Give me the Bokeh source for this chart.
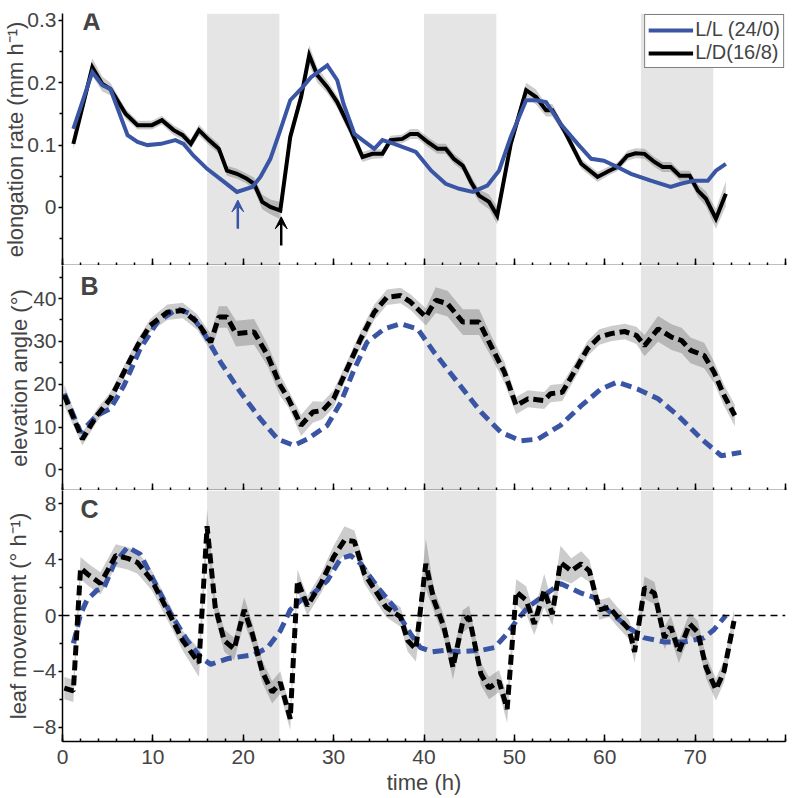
from bokeh.plotting import figure
from bokeh.layouts import column
from bokeh.models import (Range1d, FixedTicker, CustomJSTickFormatter, BoxAnnotation, Span,
                          Label, Arrow, VeeHead, Legend, LegendItem)
from bokeh.embed import file_html
from bokeh.resources import INLINE

BLUE = "#3a55a4"
FONT = "Liberation Sans"

# dark periods (h)
night_start = [16, 40, 64]
night_end = [24, 48, 72]

# ---- Panel A: elongation rate (mm h-1) ----
A_ld_t = [1.2, 3.3, 4.4, 5.3, 7.0, 8.3, 9.9, 11.0, 12.3, 13.3, 14.2, 15.1, 16.2, 17.3, 18.2,
          19.3, 20.4, 21.2, 22.1, 23.0, 24.1, 25.2, 26.4, 27.3, 28.2, 29.3, 30.4, 31.9, 33.2, 34.3,
          35.4, 36.3, 37.6, 38.5, 39.3, 40.4, 41.5, 42.4, 43.3, 44.3, 45.2, 46.1, 47.2, 48.1, 49.6,
          51.3, 52.4, 53.5, 54.2, 55.5, 57.4, 59.2, 60.5, 61.4, 62.5, 63.4, 64.4, 65.5, 66.4, 67.3,
          68.3, 69.4, 70.3, 71.2, 72.3, 73.4]
A_ld_v = [0.102, 0.225, 0.198, 0.190, 0.150, 0.132, 0.132, 0.140, 0.124, 0.116, 0.102, 0.124, 0.108, 0.094, 0.059,
          0.054, 0.046, 0.038, 0.009, 0.001, -0.005, 0.113, 0.177, 0.244, 0.212, 0.193, 0.169, 0.124, 0.081, 0.086,
          0.086, 0.108, 0.110, 0.118, 0.118, 0.105, 0.094, 0.094, 0.078, 0.067, 0.041, 0.019, 0.009, -0.013, 0.102,
          0.188, 0.177, 0.156, 0.156, 0.124, 0.070, 0.049, 0.059, 0.065, 0.083, 0.087, 0.086, 0.073, 0.065, 0.065,
          0.051, 0.051, 0.027, 0.014, -0.018, 0.022]
A_ld_se = [0.008, 0.014, 0.012, 0.010, 0.008, 0.007, 0.007, 0.007, 0.008, 0.008,
           0.008, 0.009, 0.008, 0.008, 0.008, 0.008, 0.008, 0.010, 0.012, 0.012,
           0.014, 0.012, 0.012, 0.016, 0.012, 0.010, 0.010, 0.010, 0.008, 0.008,
           0.007, 0.007, 0.007, 0.008, 0.008, 0.008, 0.008, 0.008, 0.008, 0.008,
           0.010, 0.010, 0.012, 0.014, 0.010, 0.012, 0.012, 0.010, 0.010, 0.008,
           0.008, 0.008, 0.007, 0.007, 0.008, 0.008, 0.008, 0.008, 0.008, 0.008,
           0.008, 0.008, 0.010, 0.012, 0.016, 0.020]
A_ll_t = [1.2, 3.3, 4.4, 5.3, 7.2, 8.3, 9.4, 10.9, 12.5, 13.4, 14.5, 16.0, 17.7, 19.3, 21.0,
          21.9, 23.0, 24.1, 25.2, 26.4, 27.5, 29.3, 30.4, 31.1, 32.3, 33.2, 34.5, 35.4, 36.7, 38.2,
          39.1, 40.8, 42.4, 43.9, 45.4, 47.0, 48.3, 49.6, 51.3, 52.4, 53.5, 55.1, 57.0, 58.5, 59.9,
          61.4, 62.9, 65.1, 67.3, 68.4, 69.9, 71.4, 72.3, 73.4]
A_ll_v = [0.126, 0.217, 0.196, 0.190, 0.116, 0.105, 0.100, 0.102, 0.108, 0.102, 0.083, 0.062, 0.043, 0.025, 0.033,
          0.049, 0.078, 0.124, 0.172, 0.190, 0.209, 0.228, 0.204, 0.166, 0.118, 0.108, 0.094, 0.108, 0.102, 0.094,
          0.089, 0.059, 0.038, 0.030, 0.025, 0.035, 0.059, 0.113, 0.172, 0.172, 0.169, 0.134, 0.102, 0.078, 0.075,
          0.065, 0.054, 0.043, 0.033, 0.038, 0.043, 0.043, 0.059, 0.070]
A_yticks = [0, 0.1, 0.2, 0.3]
A_yminor = [-0.05, 0.05, 0.15, 0.25]

# ---- Panel B: elevation angle (deg) ----
B_ld_t = [0.2, 2.2, 3.8, 5.3, 6.8, 8.3, 9.7, 11.6, 13.3, 14.9, 16.4, 17.3, 18.2, 19.2, 21.2,
          22.7, 24.1, 25.0, 26.4, 27.7, 28.8, 30.0, 31.5, 33.0, 34.5, 35.9, 37.4, 38.5, 40.2, 41.3,
          42.6, 44.3, 46.1, 47.4, 48.9, 50.2, 51.5, 53.3, 54.0, 55.3, 56.6, 58.1, 59.4, 60.7, 62.2,
          63.5, 64.4, 65.9, 67.4, 68.5, 69.5, 71.0, 72.1, 73.2, 74.4]
B_ld_v = [17.4, 7.2, 12.7, 16.6, 22.8, 29.0, 33.7, 36.8, 37.2, 34.5, 29.8, 35.7, 35.7, 31.8, 32.2,
          26.7, 19.7, 16.6, 10.4, 13.5, 13.9, 16.6, 23.6, 30.6, 36.8, 40.3, 40.7, 39.2, 35.7, 39.6,
          38.8, 34.5, 34.5, 29.0, 22.8, 15.0, 16.6, 16.2, 17.8, 18.1, 22.8, 28.3, 31.0, 31.8, 32.3,
          31.4, 29.0, 32.9, 31.0, 30.2, 27.9, 26.7, 22.8, 17.4, 12.7]
B_ld_se = [2.5, 1.5, 1.5, 1.5, 1.5, 1.5, 1.5, 1.8, 1.8, 1.8,
           2.0, 2.5, 2.5, 3.0, 3.0, 2.5, 2.5, 2.0, 2.5, 2.5,
           2.0, 2.0, 1.8, 1.8, 1.8, 1.8, 1.8, 1.8, 2.0, 3.0,
           3.0, 3.0, 3.0, 2.5, 2.5, 2.0, 2.0, 2.0, 2.0, 2.0,
           1.8, 1.8, 1.8, 1.8, 1.8, 2.0, 2.5, 3.0, 3.0, 3.0,
           3.0, 3.0, 2.5, 2.5, 2.5]
B_ll_t = [0.2, 2.0, 3.8, 5.3, 6.8, 8.6, 10.5, 12.7, 14.2, 15.8, 17.5, 19.7, 21.9, 23.8, 25.6,
          27.1, 29.3, 30.8, 32.3, 33.7, 35.6, 37.4, 39.3, 41.1, 43.7, 46.3, 48.5, 50.7, 52.6, 55.1,
          57.4, 59.6, 61.4, 63.6, 65.9, 68.1, 70.7, 72.9, 75.1]
B_ll_v = [17.8, 8.8, 12.7, 14.3, 19.7, 28.3, 34.5, 37.6, 36.4, 31.4, 25.1, 18.1, 11.9, 7.2, 5.7,
          7.2, 10.4, 15.8, 23.6, 29.8, 32.9, 34.1, 32.9, 27.5, 20.5, 13.5, 8.8, 6.8, 7.2, 10.4,
          15.0, 18.9, 20.5, 18.9, 16.6, 12.7, 7.2, 3.3, 4.1]
B_yticks = [0, 10, 20, 30, 40]
B_yminor = [5, 15, 25, 35, 45]

# ---- Panel C: leaf movement (deg h-1) ----
C_ld_t = [0.2, 1.2, 2.0, 2.9, 4.2, 5.9, 7.2, 8.3, 9.9, 12.0, 13.3, 15.1, 16.0, 16.9, 17.9,
          19.0, 20.1, 21.0, 22.1, 23.2, 24.1, 25.2, 26.0, 27.1, 28.6, 30.0, 31.2, 32.3, 33.4, 35.8,
          37.4, 38.2, 39.1, 40.2, 41.1, 42.2, 43.2, 44.3, 45.0, 46.3, 47.2, 48.3, 49.2, 50.2, 51.3,
          52.2, 53.3, 54.2, 55.1, 56.3, 57.4, 58.3, 59.4, 60.5, 61.4, 62.7, 63.3, 64.4, 65.5, 66.6,
          67.3, 68.2, 69.4, 70.3, 71.2, 72.3, 73.2, 74.3]
C_ld_v = [-5.2, -5.4, 3.4, 2.9, 2.3, 4.3, 4.1, 3.8, 2.5, -0.1, -1.8, -3.4, 6.4, 0.6, -1.8,
          -2.4, 0.4, -1.3, -4.0, -5.5, -4.8, -7.4, 2.5, 0.7, 2.3, 4.2, 5.4, 5.3, 3.0, 0.6,
          -0.1, -1.8, -2.4, 3.7, 1.1, -0.8, -3.7, -0.4, -0.1, -4.2, -5.2, -4.7, -6.7, 1.7, 1.1,
          -0.6, 1.8, 0.1, 3.8, 3.2, 3.7, 3.2, 0.4, 0.6, -0.1, -1.0, -2.6, 2.0, 1.6, -1.6,
          -0.8, -2.6, -0.6, -1.2, -3.7, -5.3, -4.0, -0.4]
C_ld_se = [0.8, 0.8, 0.8, 0.8, 0.8, 0.8, 0.8, 0.8, 0.7, 0.7,
           0.7, 1.0, 1.2, 0.8, 0.8, 0.8, 0.9, 0.8, 0.8, 0.8,
           0.8, 0.8, 0.8, 0.7, 0.7, 0.8, 1.0, 0.8, 0.7, 0.7,
           0.7, 0.8, 0.9, 1.8, 0.8, 0.8, 0.9, 0.8, 0.8, 0.8,
           0.8, 0.8, 1.0, 0.9, 1.0, 0.8, 1.2, 0.8, 1.2, 0.9,
           0.9, 0.8, 0.7, 0.7, 0.7, 0.7, 0.8, 0.8, 0.8, 0.8,
           0.8, 0.8, 0.8, 0.8, 0.8, 0.8, 0.8, 0.8]
C_ll_t = [1.2, 2.0, 2.7, 3.8, 4.6, 5.7, 7.2, 8.6, 10.5, 12.0, 13.8, 15.3, 16.4, 18.2, 21.2,
          22.7, 24.1, 25.2, 26.4, 27.8, 29.3, 30.8, 31.9, 33.0, 34.9, 36.7, 38.5, 39.6, 40.9, 42.2,
          43.7, 46.3, 47.8, 49.2, 50.2, 51.5, 53.0, 55.1, 57.4, 58.8, 60.3, 62.5, 64.4, 66.6, 68.8,
          71.0, 72.1, 73.4]
C_ll_v = [-2.0, 0.1, 1.1, 1.8, 2.0, 3.7, 4.9, 4.4, 2.0, 0.1, -1.8, -3.0, -3.5, -3.1, -2.8,
          -2.3, -1.1, 0.4, 1.1, 1.6, 2.5, 4.1, 4.3, 3.7, 2.0, 0.6, -1.3, -2.3, -2.6, -2.5,
          -2.6, -2.5, -2.3, -1.3, -0.4, 0.6, 1.3, 2.3, 1.6, 1.3, 0.4, -0.8, -1.6, -1.9, -1.9,
          -1.6, -1.0, 0.0]
C_yticks = [-8, -4, 0, 4, 8]
C_yminor = [-6, -2, 2, 6]

x_ticks = [0, 10, 20, 30, 40, 50, 60, 70, 80]
x_minor = [t for t in range(0, 81, 2)]

YFMT = CustomJSTickFormatter(code="""
if (Math.abs(tick) < 1e-9) return '0';
var s = (Math.abs(tick) < 1) ? tick.toFixed(1) : tick.toFixed(0);
return s.replace('-', '\\u2212');
""")
XFMT = CustomJSTickFormatter(code="return tick >= 80 ? '' : tick.toFixed(0);")
XNONE = CustomJSTickFormatter(code="return '';")


def make_panel(frame_h, yr, yticks, yminor, ylabel, top_border, bottom_labels, title_standoff):
    p = figure(frame_width=723, frame_height=frame_h,
               x_range=Range1d(0, 80), y_range=Range1d(*yr),
               output_backend="svg", toolbar_location=None,
               min_border_left=62, min_border_right=6,
               min_border_top=top_border, min_border_bottom=0)
    p.outline_line_color = None
    p.grid.visible = False
    p.background_fill_color = "white"
    p.border_fill_color = "white"
    for s, e in zip(night_start, night_end):
        p.add_layout(BoxAnnotation(left=s, right=e, fill_color="#e5e5e5", fill_alpha=1.0,
                                   line_alpha=0, level="underlay"))
    # y axis
    ya = p.yaxis[0]
    ya.ticker = FixedTicker(ticks=yticks, minor_ticks=yminor)
    ya.formatter = YFMT
    ya.axis_label = ylabel
    ya.axis_label_text_font = FONT
    ya.axis_label_text_font_size = "22px"
    ya.axis_label_text_font_style = "normal"
    ya.axis_label_standoff = title_standoff
    ya.major_label_text_font = FONT
    ya.major_label_text_font_size = "21px"
    ya.major_label_standoff = 2
    ya.major_tick_out = 4
    ya.major_tick_in = 0
    ya.minor_tick_out = 3
    ya.minor_tick_in = 0
    ya.axis_line_width = 1.5
    ya.major_tick_line_width = 1.5
    ya.minor_tick_line_width = 1.5
    # x axis
    xa = p.xaxis[0]
    xa.ticker = FixedTicker(ticks=x_ticks, minor_ticks=x_minor)
    xa.major_tick_in = 7
    xa.major_tick_out = 0
    xa.minor_tick_in = 3
    xa.minor_tick_out = 0
    xa.axis_line_width = 1.5
    xa.major_tick_line_width = 1.5
    xa.minor_tick_line_width = 1.5
    if bottom_labels:
        xa.formatter = XFMT
        xa.major_label_text_font = FONT
        xa.major_label_text_font_size = "21px"
        xa.major_label_standoff = 8
        xa.axis_label = "time (h)"
        xa.axis_label_text_font = FONT
        xa.axis_label_text_font_size = "22px"
        xa.axis_label_text_font_style = "normal"
        xa.axis_label_standoff = 3
    else:
        xa.formatter = XNONE
        xa.major_label_text_font_size = "0px"
        xa.major_label_standoff = 0
    return p


def band(t, v, se):
    lo = [a - b for a, b in zip(v, se)]
    hi = [a + b for a, b in zip(v, se)]
    return t + t[::-1], hi + lo[::-1]


# Panel A
pA = make_panel(252, (-0.093, 0.311), A_yticks, A_yminor, "elongation rate (mm h\u207b\u00b9)", 13, False, -4)
bx, by = band(A_ld_t, A_ld_v, A_ld_se)
pA.patch(bx, by, fill_color="black", fill_alpha=0.2, line_alpha=0)
rA_ld = pA.line(A_ld_t, A_ld_v, line_color="black", line_width=4, line_join="miter")
rA_ll = pA.line(A_ll_t, A_ll_v, line_color=BLUE, line_width=4, line_join="miter")
pA.add_layout(Arrow(end=VeeHead(size=12, fill_color=BLUE, line_color=BLUE, line_width=1),
                    x_start=19.4, y_start=-0.034, x_end=19.4, y_end=0.012,
                    line_color=BLUE, line_width=2.5))
pA.add_layout(Arrow(end=VeeHead(size=12, fill_color="black", line_color="black", line_width=1),
                    x_start=24.2, y_start=-0.061, x_end=24.2, y_end=-0.015,
                    line_color="black", line_width=2.5))
pA.add_layout(Label(x=2.2, y=0.276, text="A", text_font=FONT, text_font_size="25px",
                    text_font_style="bold"))
legend = Legend(items=[LegendItem(label="L/L (24/0)", renderers=[rA_ll]),
                       LegendItem(label="L/D(16/8)", renderers=[rA_ld])],
                location="top_right", margin=1, padding=3, spacing=0,
                label_text_font=FONT, label_text_font_size="20px",
                label_standoff=2, glyph_width=45, glyph_height=20, label_height=20,
                border_line_color="black", border_line_width=1.5,
                background_fill_color="white", background_fill_alpha=1.0)
pA.add_layout(legend)

# Panel B
pB = make_panel(225, (-4.8, 47.7), B_yticks, B_yminor, "elevation angle (\u00b0)", 0, False, -2)
bx, by = band(B_ld_t, B_ld_v, B_ld_se)
pB.patch(bx, by, fill_color="black", fill_alpha=0.2, line_alpha=0)
pB.line(B_ll_t, B_ll_v, line_color=BLUE, line_width=5, line_dash="11 6")
pB.line(B_ld_t, B_ld_v, line_color="black", line_width=5, line_dash="10 5")
pB.add_layout(Label(x=2.0, y=39.6, text="B", text_font=FONT, text_font_size="25px",
                    text_font_style="bold"))

# Panel C
pC = make_panel(251, (-9.03, 8.96), C_yticks, C_yminor, "leaf movement (\u00b0 h\u207b\u00b9)", 0, True, -1)
pC.add_layout(Span(location=0, dimension="width", line_color="black", line_width=1.5,
                   line_dash="7 5"))
bx, by = band(C_ld_t, C_ld_v, C_ld_se)
pC.patch(bx, by, fill_color="black", fill_alpha=0.2, line_alpha=0)
pC.line(C_ll_t, C_ll_v, line_color=BLUE, line_width=5, line_dash="11 6")
pC.line(C_ld_t, C_ld_v, line_color="black", line_width=5, line_dash="10 5")
pC.add_layout(Label(x=2.0, y=6.6, text="C", text_font=FONT, text_font_size="25px",
                    text_font_style="bold"))

layout = column(pA, pB, pC, spacing=0)
open("out.html", "w").write(file_html(layout, INLINE))
